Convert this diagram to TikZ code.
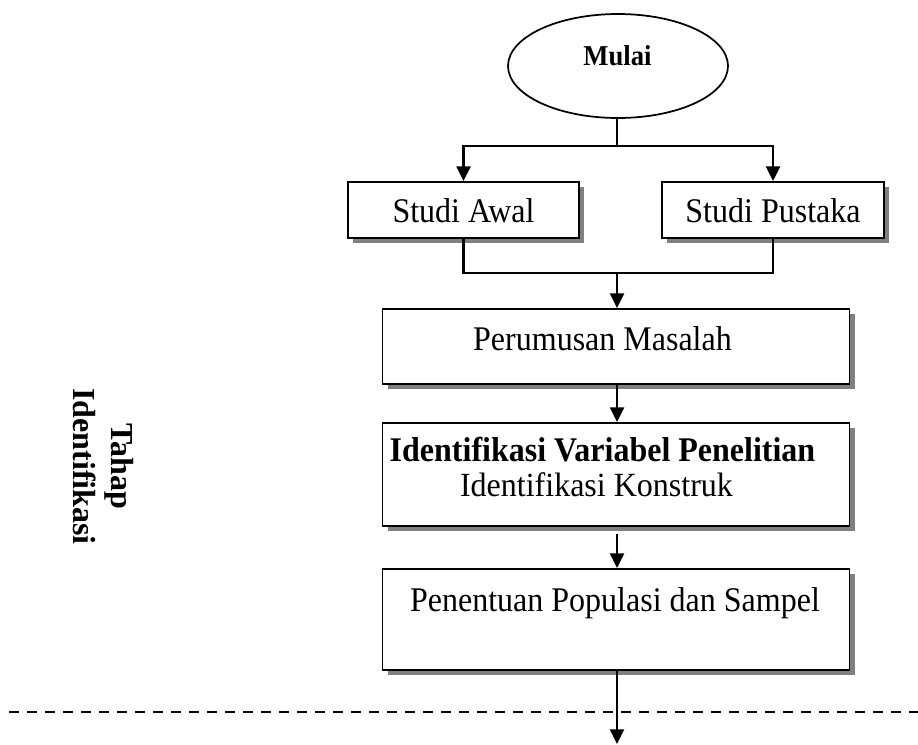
\documentclass[tikz,border=0pt]{standalone}
\usepackage{fontspec}
\setmainfont{Liberation Serif}
\usetikzlibrary{shapes.geometric,arrows.meta,shadows}
\tikzset{
  box/.style={draw=black, line width=1.4pt, fill=white, inner sep=0pt,
    drop shadow={shadow xshift=3.8pt, shadow yshift=-3.8pt, fill=black!50, opacity=1}},
  startshape/.style={draw=black, line width=1.3pt, ellipse, inner sep=0pt,
    minimum width=165pt, minimum height=78pt},
  txt/.style={inner sep=0pt, anchor=base, yscale=1.08, font=\fontsize{24}{28}\selectfont},
  btxt/.style={txt, font=\fontsize{24}{28}\selectfont\bfseries},
  sidetxt/.style={inner sep=0pt, anchor=base, rotate=-90, font=\fontsize{24}{28}\selectfont\bfseries},
  conn/.style={line width=1.6pt},
  arr/.style={conn, -{Triangle[length=11pt, width=10.5pt]}},
  dashline/.style={line width=2pt, dash pattern=on 7.5pt off 6pt}
}
\begin{document}
\begin{tikzpicture}[x=0.75pt, y=-0.75pt]
\useasboundingbox (0,0) rectangle (918,744);

% start ellipse
\node[startshape] (mulai) at (618,66) {};
\node[txt, font=\fontsize{20}{24}\selectfont\bfseries] (mulaitxt) at (617.5,65) {Mulai};

% boxes
\node[box, minimum width=173.25pt, minimum height=42pt] (awal) at (463.5,210) {};
\node[txt] (awaltxt) at (463.5,222.5) {Studi Awal};
\node[box, minimum width=166.5pt, minimum height=42pt] (pustaka) at (773,210) {};
\node[txt] (pustakatxt) at (773,222.5) {Studi Pustaka};

\node[box, minimum width=350.25pt, minimum height=56.25pt] (rumus) at (616,346.5) {};
\node[txt] (rumustxt) at (602.5,350) {Perumusan Masalah};

\node[box, minimum width=350.25pt, minimum height=77.25pt] (ident) at (616,474.5) {};
\node[btxt, text depth=0pt] (identtxt) at (602.5,461) {Identifikasi Variabel Penelitian};
\node[txt, yscale=0.98] (konstxt) at (596.5,496.5) {Identifikasi Konstruk};

\node[box, minimum width=350.25pt, minimum height=75.75pt] (tentu) at (616,619.5) {};
\node[txt] (tentutxt) at (615,611) {Penentuan Populasi dan Sampel};

% side label
\node[sidetxt] (tahap) at (111,466.5) {Tahap};
\node[sidetxt] (identifikasi) at (73.5,466.5) {Identifikasi};

% junctions
\coordinate (j1) at (617,146);
\coordinate (j2) at (617,273);
\coordinate (endpt) at (617,744);
\coordinate (dl) at (9,712);
\coordinate (dr) at (918,712);

% connectors
\draw[conn] (mulai.south -| j1) -- (j1);
\draw[arr] (j1) -| (awal.north);
\draw[arr] (j1) -| (pustaka.north);
\draw[conn] (awal.south) |- (j2) -| (pustaka.south);
\draw[arr] (j2) -- (rumus.north -| j2);
\draw[arr] (rumus.south -| j2) -- (ident.north -| j2);
\draw[arr] ([yshift=-5pt]ident.south -| j2) -- (tentu.north -| j2);
\draw[dashline] (dl) -- (dr);
\draw[arr] (tentu.south -| j2) -- (endpt);
\end{tikzpicture}
\end{document}
